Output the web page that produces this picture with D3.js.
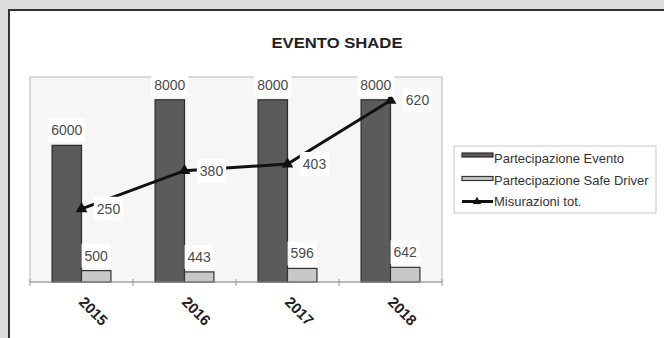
<!DOCTYPE html>
<html><head><meta charset="utf-8">
<script src="https://cdn.jsdelivr.net/npm/d3@7"></script>
<style>
html,body{margin:0;padding:0;background:#dcdcdc;}
svg{display:block;font-family:"Liberation Sans",Arial,sans-serif;}
</style></head>
<body>
<svg id="c" width="664" height="338"></svg>
<script>
const years = ["2015","2016","2017","2018"];
const partecipazioneEvento = [6000, 8000, 8000, 8000];
const partecipazioneSafeDriver = [500, 443, 596, 642];
const misurazioniTot = [250, 380, 403, 620];
const seriesNames = ["Partecipazione Evento","Partecipazione Safe Driver","Misurazioni tot."];
const title = "EVENTO SHADE";

const svg = d3.select("#c");
svg.append("rect").attr("x",0).attr("y",0).attr("width",664).attr("height",338).attr("fill","#dcdcdc");
svg.append("rect").attr("x",9).attr("y",10).attr("width",670).attr("height",340)
  .attr("fill","#ffffff").attr("stroke","#333").attr("stroke-width",2);

const plot = {l:30, r:442, t:77, b:282};
svg.append("rect").attr("x",plot.l).attr("y",plot.t).attr("width",plot.r-plot.l).attr("height",plot.b-plot.t)
  .attr("fill","#f6f6f6").attr("stroke","#c4c4c4").attr("stroke-width",1.2);

svg.append("text").attr("x",337).attr("y",48).attr("text-anchor","middle")
  .attr("font-size",15).attr("font-weight","bold").attr("fill","#222")
  .attr("textLength",131).attr("lengthAdjust","spacingAndGlyphs").text(title);

const x = d3.scaleBand().domain(years).range([plot.l, plot.r]).padding(0);
const xs = d3.scaleBand().domain(["e","s"]).range([0, x.bandwidth()]).paddingInner(0).paddingOuter(0.75);
const y = d3.scaleLinear().domain([0, 9000]).range([plot.b, plot.t]);
const y2 = d3.scaleLinear().domain([0, 700]).range([plot.b, plot.t]);

const data = years.map((yr,i)=>({yr, e:partecipazioneEvento[i], s:partecipazioneSafeDriver[i], m:misurazioniTot[i]}));

svg.append("g").selectAll("rect").data(data).join("rect")
  .attr("x", d=>x(d.yr)+xs("e")).attr("width", xs.bandwidth())
  .attr("y", d=>y(d.e)).attr("height", d=>y(0)-y(d.e))
  .attr("fill","#5b5b5b").attr("stroke","#2b2b2b").attr("stroke-width",1.2);
svg.append("g").selectAll("rect").data(data).join("rect")
  .attr("x", d=>x(d.yr)+xs("s")).attr("width", xs.bandwidth())
  .attr("y", d=>y(d.s)).attr("height", d=>y(0)-y(d.s))
  .attr("fill","#c8c8c8").attr("stroke","#333").attr("stroke-width",1.2);

const cx = d=>x(d.yr)+x.bandwidth()/2;
svg.append("path").datum(data)
  .attr("d", d3.line().x(cx).y(d=>y2(d.m)))
  .attr("fill","none").attr("stroke","#111").attr("stroke-width",3);
const tri = d3.symbol().type(d3.symbolTriangle).size(60);
svg.append("g").selectAll("path").data(data).join("path")
  .attr("d", tri).attr("transform", d=>`translate(${cx(d)},${y2(d.m)})`).attr("fill","#111");

function label(g, tx, ty, txt){
  const t = g.append("text").attr("x",tx).attr("y",ty).attr("text-anchor","middle")
    .attr("dy","0.36em").attr("font-size",14).attr("fill","#4a4a4a").text(txt);
  const w = t.node().getComputedTextLength();
  g.insert("rect","text").attr("x",tx-w/2-3).attr("y",ty-12).attr("width",w+6).attr("height",24).attr("fill","#fff");
}
const lg = svg.append("g");
data.forEach(d=>{
  label(lg.append("g"), x(d.yr)+xs("e")+xs.bandwidth()/2, y(d.e)-15, d.e);
  label(lg.append("g"), x(d.yr)+xs("s")+xs.bandwidth()/2, y(d.s)-15, d.s);
  label(lg.append("g"), cx(d)+27, y2(d.m), d.m);
});

const ax = svg.append("g").attr("transform",`translate(0,${plot.b})`);
ax.append("line").attr("x1",plot.l).attr("x2",plot.r).attr("stroke","#999").attr("stroke-width",1.2);
const bounds = years.map(yr=>x(yr)).concat([plot.r]);
ax.selectAll("line.tk").data(bounds).join("line").attr("class","tk")
  .attr("x1",d=>d).attr("x2",d=>d).attr("y1",-3).attr("y2",4).attr("stroke","#999");
ax.selectAll("text").data(years).join("text")
  .attr("transform", d=>`translate(${x(d)+x.bandwidth()/2+12},29) rotate(45)`)
  .attr("text-anchor","middle").attr("dy","0.36em")
  .attr("font-size",15).attr("font-weight","bold").attr("fill","#222").text(d=>d);

const leg = svg.append("g");
leg.append("rect").attr("x",454).attr("y",146).attr("width",202).attr("height",67)
  .attr("fill","#fff").attr("stroke","#c8c8c8");
const rows = [163, 184.5, 205.5];
leg.append("rect").attr("x",462).attr("y",rows[0]-10).attr("width",31).attr("height",4)
  .attr("fill","#5b5b5b").attr("stroke","#2b2b2b").attr("stroke-width",1.2);
leg.append("rect").attr("x",462).attr("y",rows[1]-8).attr("width",31).attr("height",4)
  .attr("fill","#c8c8c8").attr("stroke","#333").attr("stroke-width",1.2);
leg.append("line").attr("x1",462).attr("x2",493).attr("y1",rows[2]-4).attr("y2",rows[2]-4)
  .attr("stroke","#111").attr("stroke-width",3);
leg.append("path").attr("d", d3.symbol().type(d3.symbolTriangle).size(30))
  .attr("transform",`translate(477,${rows[2]-4})`).attr("fill","#111");
seriesNames.forEach((n,i)=>{
  leg.append("text").attr("x",494).attr("y",rows[i]).attr("font-size",13).attr("fill","#333").text(n);
});
</script>
</body></html>
